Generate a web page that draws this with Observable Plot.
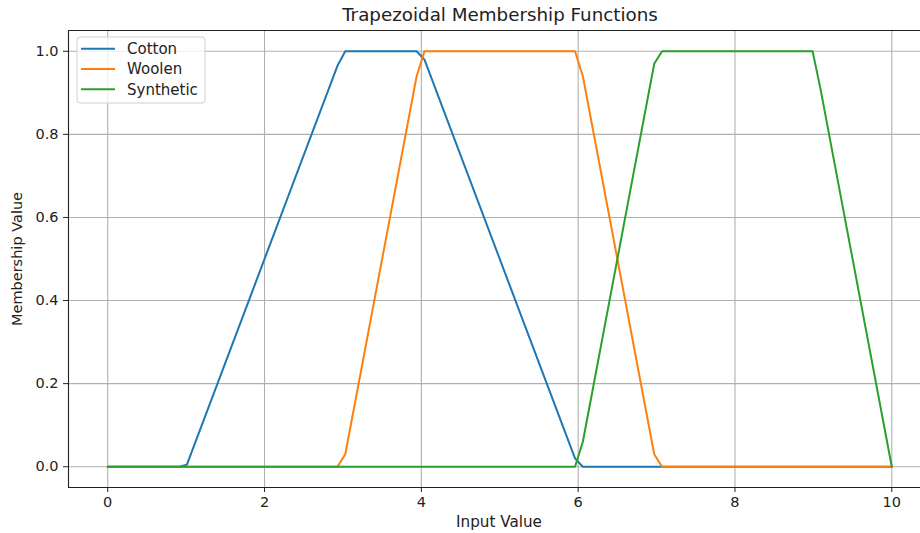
<!DOCTYPE html>
<html>
<head>
<meta charset="utf-8">
<script src="https://cdn.jsdelivr.net/npm/d3@7"></script>
<script src="https://cdn.jsdelivr.net/npm/@observablehq/plot@0.6"></script>
<style>
  html, body { margin: 0; padding: 0; background: #fff; }
  #chart { width: 920px; height: 533px; overflow: hidden; }
</style>
</head>
<body>
<div id="chart"></div>
<script>
// Data (polyline vertices)
const cottonX = [0, 0.91, 1.01, 2.93, 3.03, 3.94, 4.04, 5.96, 6.06, 10];
const cottonY = [0, 0, 0.005, 0.965, 1, 1, 0.98, 0.02, 0, 0];
const woolenX = [0, 2.93, 3.03, 3.94, 4.04, 5.96, 6.06, 6.97, 7.07, 10];
const woolenY = [0, 0, 0.03, 0.94, 1, 1, 0.94, 0.03, 0, 0];
const syntheticX = [0, 5.96, 6.06, 6.97, 7.07, 8.99, 9.09, 10];
const syntheticY = [0, 0, 0.06, 0.97, 1, 1, 0.91, 0];

const seriesNames = ["Cotton", "Woolen", "Synthetic"];
const seriesColors = ["#1f77b4", "#ff7f0e", "#2ca02c"];
const xTicks = [0, 2, 4, 6, 8, 10];
const yTicks = [0, 0.2, 0.4, 0.6, 0.8, 1.0];
const xDomain = [-0.5, 10.5];
const yDomain = [-0.05, 1.05];
const titleText = "Trapezoidal Membership Functions";
const xLabel = "Input Value";
const yLabel = "Membership Value";

const toRows = (name, xs, ys) => xs.map((x, i) => ({series: name, x, y: ys[i]}));
const seriesData = [
  toRows("Cotton", cottonX, cottonY),
  toRows("Woolen", woolenX, woolenY),
  toRows("Synthetic", syntheticX, syntheticY)
];

const W = 920, H = 533;
const font = "DejaVu Sans, sans-serif";

const plot = Plot.plot({
  width: W,
  height: H,
  marginLeft: 68,
  marginTop: 30,
  marginBottom: 46,
  marginRight: 0,
  style: {fontFamily: font, fontSize: "14.5px", color: "#222", background: "#fff"},
  x: {domain: xDomain, range: [68, 930.5]},
  y: {domain: yDomain, range: [487, 30]},
  marks: [
    Plot.gridX(xTicks, {stroke: "#b0b0b0", strokeOpacity: 1, strokeWidth: 1.1}),
    Plot.gridY(yTicks, {stroke: "#b0b0b0", strokeOpacity: 1, strokeWidth: 1.1}),
    Plot.axisX(xTicks, {tickSize: 5, tickPadding: 4, tickFormat: d3.format("d"), label: null, fontSize: 14.5, stroke: "#222"}),
    Plot.axisY(yTicks, {tickSize: 5, tickPadding: 5, tickFormat: d3.format(".1f"), label: null, fontSize: 14.5, stroke: "#222"}),
    ...seriesData.map((rows, i) =>
      Plot.line(rows, {x: "x", y: "y", stroke: seriesColors[i], strokeWidth: 2, curve: "linear"})
    ),
    Plot.ruleX([xDomain[0]], {stroke: "#222", strokeWidth: 1.1}),
    Plot.ruleY([yDomain[0], yDomain[1]], {stroke: "#222", strokeWidth: 1.1})
  ]
});

const svg = d3.select(plot);
// Title
svg.append("text")
  .attr("x", 500).attr("y", 21)
  .attr("text-anchor", "middle")
  .attr("font-family", font).attr("font-size", 18.3).attr("fill", "#222")
  .text(titleText);
// Axis labels
svg.append("text")
  .attr("x", 499).attr("y", 527)
  .attr("text-anchor", "middle")
  .attr("font-family", font).attr("font-size", 15.2).attr("fill", "#222")
  .text(xLabel);
svg.append("text")
  .attr("transform", "translate(22,259) rotate(-90)")
  .attr("text-anchor", "middle")
  .attr("font-family", font).attr("font-size", 14.5).attr("fill", "#222")
  .text(yLabel);

// Legend
const lg = svg.append("g");
lg.append("rect")
  .attr("x", 77).attr("y", 37).attr("width", 128).attr("height", 66)
  .attr("rx", 3).attr("fill", "#fff").attr("fill-opacity", 0.8)
  .attr("stroke", "#d0d0d0").attr("stroke-width", 1);
seriesNames.forEach((name, i) => {
  const yy = 48.7 + i * 20.3;
  lg.append("line")
    .attr("x1", 81).attr("x2", 115).attr("y1", yy).attr("y2", yy)
    .attr("stroke", seriesColors[i]).attr("stroke-width", 2);
  lg.append("text")
    .attr("x", 127).attr("y", yy + 5.3)
    .attr("text-anchor", "start")
    .attr("font-family", font).attr("font-size", 15).attr("fill", "#222")
    .text(name);
});

document.getElementById("chart").appendChild(plot);
</script>
</body>
</html>
